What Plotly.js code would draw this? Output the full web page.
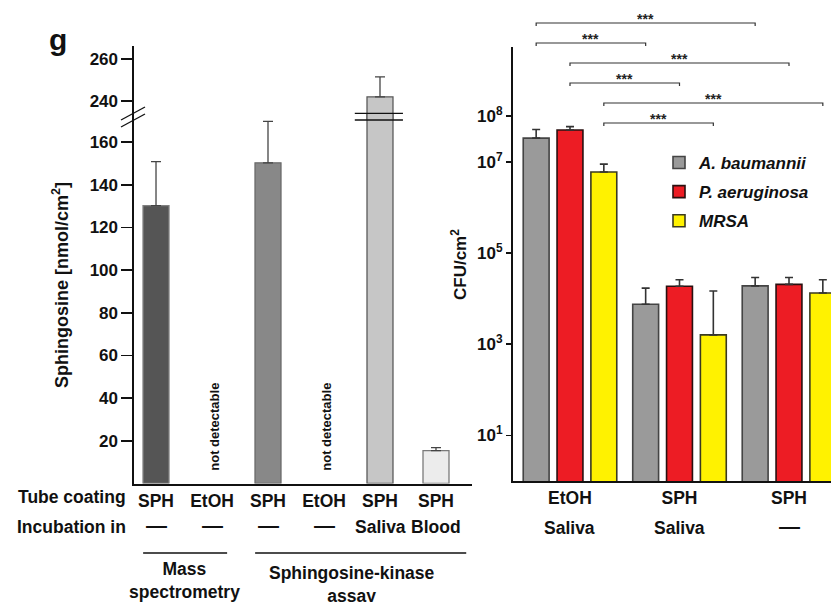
<!DOCTYPE html>
<html><head><meta charset="utf-8">
<script src="https://cdn.plot.ly/plotly-3.0.1.min.js"></script>
<style>html,body{margin:0;padding:0;background:#fff}#chart{width:831px;height:602px}</style>
</head><body><div id="chart"></div>
<script>
// ---------- Left panel data (Sphingosine, nmol/cm2) ----------
const tubeCoating   = ['SPH', 'EtOH', 'SPH', 'EtOH', 'SPH', 'SPH'];
const incubationIn  = ['—', '—', '—', '—', 'Saliva', 'Blood'];
const sphingosine    = [130.2, null, 150.3, null, 242, 15.4];
const sphingosineErr = [20.6, null, 19.4, null, 9.5, 1.4];
const lowerTicks = [20, 40, 60, 80, 100, 120, 140, 160];
const upperTicks = [240, 260];

// ---------- Right panel data (CFU/cm2) ----------
const cfuCoating    = ['EtOH', 'SPH', 'SPH'];
const cfuIncubation = ['Saliva', 'Saliva', '—'];
const speciesNames  = ['A. baumannii', 'P. aeruginosa', 'MRSA'];
const aBaumannii     = [3.3e7, 7.5e3, 1.9e4];
const aBaumanniiErr  = [1.8e7, 9.5e3, 1.0e4];
const pAeruginosa    = [5.0e7, 1.86e4, 2.05e4];
const pAeruginosaErr = [0.9e7, 7.4e3, 8.5e3];
const mrsa           = [6.0e6, 1.6e3, 1.33e4];
const mrsaErr        = [2.9e6, 1.31e4, 1.27e4];
const cfuTickVals = [1e1, 1e3, 1e5, 1e7, 1e8];
const cfuTickText = ['10<sup>1</sup>', '10<sup>3</sup>', '10<sup>5</sup>', '10<sup>7</sup>', '10<sup>8</sup>'];
// significance comparisons: [species index, from group, to group, label]
const comparisons = [[0, 0, 2, '***'], [0, 0, 1, '***'], [1, 0, 2, '***'], [1, 0, 1, '***'], [2, 0, 2, '***'], [2, 0, 1, '***']];

// ---------- styles / geometry helpers ----------
const W = 831, H = 602;
const px = p => p / W;
const py = p => 1 - p / H;
const FONT = 'Liberation Sans, Arial, Helvetica, sans-serif';
const leftFills = ['#555555', '#555555', '#888888', '#888888', '#c6c6c6', '#ececec'];
const leftLines = ['#808080', '#808080', '#6a6a6a', '#6a6a6a', '#5a5a5a', '#7a7a7a'];
const speciesFills = ['#9a9a9a', '#ed1c24', '#fff200'];
const speciesLines = ['#444444', '#2a1010', '#3a3a20'];
const bargap = 0.073, bargroupgap = 0.235;
const idx = tubeCoating.map((_, i) => i);
const gidx = cfuCoating.map((_, i) => i);

function leftTrace(yaxis) {
  return {
    type: 'bar', x: idx, y: sphingosine, yaxis: yaxis, xaxis: 'x', width: 0.464,
    marker: {color: leftFills, line: {color: leftLines, width: 1.3}},
    error_y: {type: 'data', array: sphingosineErr, arrayminus: idx.map(() => 0), symmetric: false,
              color: '#444444', thickness: 1.3, width: 5},
    showlegend: false, hoverinfo: 'skip'
  };
}
const speciesData = [aBaumannii, pAeruginosa, mrsa];
const speciesErr = [aBaumanniiErr, pAeruginosaErr, mrsaErr];
const rightTraces = speciesData.map((vals, k) => ({
  type: 'bar', x: gidx, y: vals, xaxis: 'x2', yaxis: 'y3', name: speciesNames[k], legendgroup: 'g' + k,
  marker: {color: speciesFills[k], line: {color: speciesLines[k], width: 1.6}},
  error_y: {type: 'data', array: speciesErr[k], arrayminus: gidx.map(() => 0), symmetric: false,
            color: '#333333', thickness: 1.6, width: 4},
  hoverinfo: 'skip'
}));

const FS = 17.5;
const bold = (size, extra) => Object.assign({family: FONT, size: size, color: '#111111', weight: 'bold'}, extra || {});
const ann = o => Object.assign({showarrow: false, xanchor: 'center', yanchor: 'middle'}, o);
const isDash = t => t === '—';
const rowFont = t => bold(isDash(t) ? 21 : FS);
const rowY = (base, t) => py(isDash(t) ? base - 3 : base);

const annotations = [];
annotations.push(ann({text: 'g', x: px(58), y: py(40), xref: 'paper', yref: 'paper', font: bold(30)}));
annotations.push(ann({text: 'Sphingosine [nmol/cm<sup>2</sup>]', textangle: -90, x: px(60), y: py(285), xref: 'paper', yref: 'paper', font: bold(18)}));
annotations.push(ann({text: 'CFU/cm<sup>2</sup>', textangle: -90, x: px(459), y: py(265), xref: 'paper', yref: 'paper', font: bold(17)}));
annotations.push(ann({text: 'Tube coating', x: px(128), y: py(497), xanchor: 'right', xref: 'paper', yref: 'paper', font: bold(FS)}));
annotations.push(ann({text: 'Incubation in', x: px(128), y: py(527), xanchor: 'right', xref: 'paper', yref: 'paper', font: bold(FS)}));
incubationIn.forEach((t, i) => annotations.push(ann({text: t, x: i, xref: 'x', y: rowY(527, t), yref: 'paper', font: rowFont(t)})));
sphingosine.forEach((v, i) => { if (v === null) annotations.push(ann({text: 'not detectable', textangle: -90, x: i + 0.05, xref: 'x', y: 26.5, yref: 'y', font: bold(13)})); });
annotations.push(ann({text: 'Mass<br>spectrometry', x: 0.5, xref: 'x', y: py(557), yref: 'paper', yanchor: 'top', font: bold(FS)}));
annotations.push(ann({text: 'Sphingosine-kinase<br>assay', x: 3.5, xref: 'x', y: py(561), yref: 'paper', yanchor: 'top', font: bold(FS)}));
cfuIncubation.forEach((t, i) => annotations.push(ann({text: t, x: i, xref: 'x2', y: rowY(528, t), yref: 'paper', font: rowFont(t)})));

const shapes = [];
// axis break marks on the left y axis
shapes.push({type: 'line', xref: 'paper', yref: 'paper', x0: px(121), y0: py(120), x1: px(145), y1: py(107), line: {color: '#111', width: 1.3}});
shapes.push({type: 'line', xref: 'paper', yref: 'paper', x0: px(121), y0: py(127), x1: px(145), y1: py(114), line: {color: '#111', width: 1.3}});
// break lines across the saliva bar
[113.3, 120].forEach(yy => shapes.push({type: 'line', xref: 'x', yref: 'paper', x0: 4 - 0.45, x1: 4 + 0.41, y0: py(yy), y1: py(yy), line: {color: '#111', width: 1.3}}));
// method group underlines
shapes.push({type: 'line', xref: 'x', yref: 'paper', x0: -0.23, x1: 1.27, y0: py(553), y1: py(553), line: {color: '#111', width: 1.5}});
shapes.push({type: 'line', xref: 'x', yref: 'paper', x0: 1.77, x1: 5.54, y0: py(553), y1: py(553), line: {color: '#111', width: 1.5}});
// significance brackets
const slot = (1 - bargap) / 3;
comparisons.forEach((c, j) => {
  const off = (c[0] - 1) * slot;
  const xa = c[1] + off, xb = c[2] + off;
  const yl = 23 + 20 * j;
  const t = 3;
  shapes.push({type: 'path', xref: 'x2', yref: 'paper',
    path: `M${xa},${py(yl + t)} L${xa},${py(yl)} L${xb},${py(yl)} L${xb},${py(yl + t)}`,
    line: {color: '#333333', width: 1.2}});
  annotations.push(ann({text: c[3], x: (xa + xb) / 2, xref: 'x2', y: py(yl - 4), yref: 'paper',
    font: {family: FONT, size: 14, color: '#222222', weight: 'bold'}}));
});

const layout = {
  width: W, height: H, margin: {l: 0, r: 0, t: 0, b: 0}, paper_bgcolor: '#fff', plot_bgcolor: 'rgba(0,0,0,0)',
  font: {family: FONT, color: '#111'},
  barmode: 'group', bargap: bargap, bargroupgap: bargroupgap,
  xaxis: {domain: [px(134), px(472)], range: [-0.393, 5.643], anchor: 'y', showline: true, linewidth: 2, linecolor: '#111',
          ticks: '', tickvals: idx, ticktext: tubeCoating, tickfont: bold(FS), showgrid: false, zeroline: false, fixedrange: true},
  yaxis: {domain: [py(483.5), py(113.5)], range: [0, 173.4], anchor: 'x', showline: true, linewidth: 1.6, linecolor: '#111',
          ticks: 'outside', ticklen: 11, tickwidth: 1.6, tickcolor: '#111', tickvals: lowerTicks, tickfont: bold(17),
          showgrid: false, zeroline: false, fixedrange: true},
  yaxis2: {domain: [py(119.5), py(46)], range: [231.2, 266.2], anchor: 'x', showline: true, linewidth: 1.6, linecolor: '#111',
          ticks: 'outside', ticklen: 11, tickwidth: 1.6, tickcolor: '#111', tickvals: upperTicks, tickfont: bold(17),
          showgrid: false, zeroline: false, fixedrange: true},
  xaxis2: {domain: [px(513), 1], range: [-0.5205, 2.3836], anchor: 'y3', showline: true, linewidth: 2, linecolor: '#111',
          ticks: '', tickvals: gidx, ticktext: cfuCoating, tickfont: bold(FS), showgrid: false, zeroline: false, fixedrange: true},
  yaxis3: {type: 'log', domain: [py(481), py(47)], range: [0, 9.518], anchor: 'x2', showline: true, linewidth: 2, linecolor: '#111',
          ticks: 'outside', ticklen: 5, tickwidth: 1.5, tickcolor: '#111', tickvals: cfuTickVals, ticktext: cfuTickText, tickfont: bold(17),
          showgrid: false, zeroline: false, fixedrange: true},
  legend: {x: px(659), y: py(145), xanchor: 'left', yanchor: 'top', bgcolor: 'rgba(0,0,0,0)', traceorder: 'grouped', tracegroupgap: 4,
           font: {family: FONT, size: 17, color: '#111', weight: 'bold', style: 'italic'}},
  annotations: annotations, shapes: shapes
};

Plotly.newPlot('chart', [leftTrace('y'), leftTrace('y2')].concat(rightTraces), layout, {displayModeBar: false, staticPlot: true});
</script>
</body></html>
